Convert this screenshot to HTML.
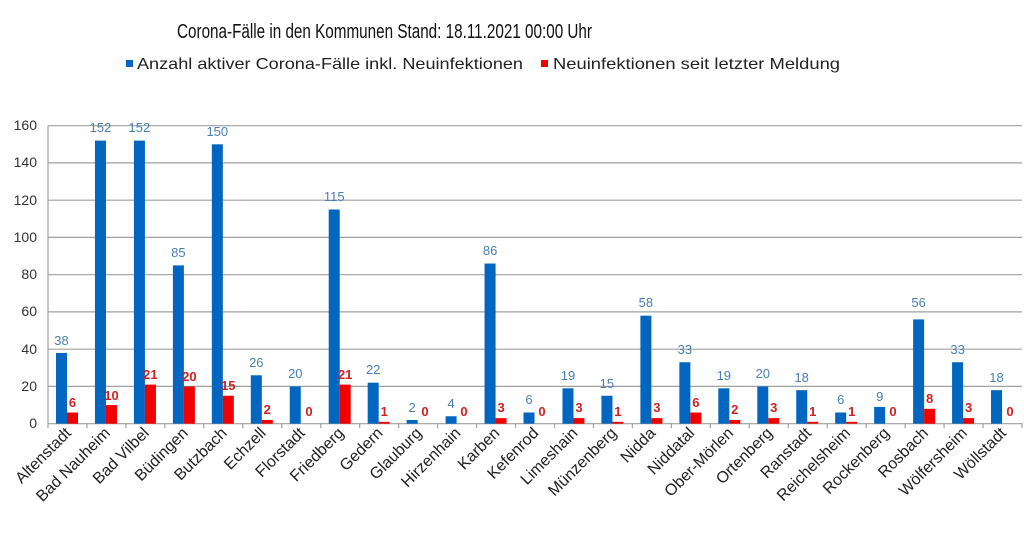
<!DOCTYPE html>
<html><head><meta charset="utf-8"><style>
body{margin:0;background:#fff}
svg{display:block;font-family:"Liberation Sans",sans-serif}
.b{fill:#0066bf}.r{fill:#f00000}
.bl{fill:#4a7fb5;font-size:13px;text-anchor:middle}
.rl{fill:#d02020;font-size:13px;font-weight:bold;text-anchor:middle}
.yl{fill:#333;font-size:14px;text-anchor:end}
.cl{fill:#222;font-size:16px;text-anchor:end}
</style></head><body>
<svg width="1024" height="534" viewBox="0 0 1024 534">
<text x="177" y="38" font-size="20" textLength="415" lengthAdjust="spacingAndGlyphs" fill="#111">Corona-Fälle in den Kommunen Stand: 18.11.2021 00:00 Uhr</text>
<rect x="126" y="60" width="7" height="7" class="b"/>
<text x="137" y="69" font-size="16" textLength="386" lengthAdjust="spacingAndGlyphs" fill="#222">Anzahl aktiver Corona-Fälle inkl. Neuinfektionen</text>
<rect x="541" y="60" width="7" height="7" class="r"/>
<text x="553" y="69" font-size="16" textLength="287" lengthAdjust="spacingAndGlyphs" fill="#222">Neuinfektionen seit letzter Meldung</text>
<g stroke="#a0a0a0" stroke-width="1.2">
<line x1="48" x2="1022" y1="125.7" y2="125.7"/>
<line x1="48" x2="1022" y1="162.9" y2="162.9"/>
<line x1="48" x2="1022" y1="200.2" y2="200.2"/>
<line x1="48" x2="1022" y1="237.4" y2="237.4"/>
<line x1="48" x2="1022" y1="274.7" y2="274.7"/>
<line x1="48" x2="1022" y1="311.9" y2="311.9"/>
<line x1="48" x2="1022" y1="349.2" y2="349.2"/>
<line x1="48" x2="1022" y1="386.4" y2="386.4"/>
<line x1="48" x2="1022" y1="423.7" y2="423.7"/>
<line x1="48" x2="48" y1="125.7" y2="428"/>
</g>
<g stroke="#a0a0a0" stroke-width="1.2">
<line x1="86.96" x2="86.96" y1="423" y2="428"/><line x1="125.92" x2="125.92" y1="423" y2="428"/><line x1="164.88" x2="164.88" y1="423" y2="428"/><line x1="203.84" x2="203.84" y1="423" y2="428"/><line x1="242.8" x2="242.8" y1="423" y2="428"/><line x1="281.76" x2="281.76" y1="423" y2="428"/><line x1="320.72" x2="320.72" y1="423" y2="428"/><line x1="359.68" x2="359.68" y1="423" y2="428"/><line x1="398.64" x2="398.64" y1="423" y2="428"/><line x1="437.6" x2="437.6" y1="423" y2="428"/><line x1="476.56" x2="476.56" y1="423" y2="428"/><line x1="515.52" x2="515.52" y1="423" y2="428"/><line x1="554.48" x2="554.48" y1="423" y2="428"/><line x1="593.44" x2="593.44" y1="423" y2="428"/><line x1="632.4" x2="632.4" y1="423" y2="428"/><line x1="671.36" x2="671.36" y1="423" y2="428"/><line x1="710.32" x2="710.32" y1="423" y2="428"/><line x1="749.28" x2="749.28" y1="423" y2="428"/><line x1="788.24" x2="788.24" y1="423" y2="428"/><line x1="827.2" x2="827.2" y1="423" y2="428"/><line x1="866.16" x2="866.16" y1="423" y2="428"/><line x1="905.12" x2="905.12" y1="423" y2="428"/><line x1="944.08" x2="944.08" y1="423" y2="428"/><line x1="983.04" x2="983.04" y1="423" y2="428"/><line x1="1022" x2="1022" y1="423" y2="428"/>
</g>
<g class="yl">
<text x="37" y="130">160</text><text x="37" y="167">140</text><text x="37" y="205">120</text><text x="37" y="242">100</text><text x="37" y="279">80</text><text x="37" y="316">60</text><text x="37" y="354">40</text><text x="37" y="391">20</text><text x="37" y="428">0</text>
</g>
<g transform="translate(0,423.7) scale(1,-1.8625)">
<rect class="b" x="56" width="11" y="0" height="38"/><rect class="r" x="67" width="11" y="0" height="6"/>
<rect class="b" x="94.96" width="11" y="0" height="152"/><rect class="r" x="105.96" width="11" y="0" height="10"/>
<rect class="b" x="133.92" width="11" y="0" height="152"/><rect class="r" x="144.92" width="11" y="0" height="21"/>
<rect class="b" x="172.88" width="11" y="0" height="85"/><rect class="r" x="183.88" width="11" y="0" height="20"/>
<rect class="b" x="211.84" width="11" y="0" height="150"/><rect class="r" x="222.84" width="11" y="0" height="15"/>
<rect class="b" x="250.8" width="11" y="0" height="26"/><rect class="r" x="261.8" width="11" y="0" height="2"/>
<rect class="b" x="289.76" width="11" y="0" height="20"/>
<rect class="b" x="328.72" width="11" y="0" height="115"/><rect class="r" x="339.72" width="11" y="0" height="21"/>
<rect class="b" x="367.68" width="11" y="0" height="22"/><rect class="r" x="378.68" width="11" y="0" height="1"/>
<rect class="b" x="406.64" width="11" y="0" height="2"/>
<rect class="b" x="445.6" width="11" y="0" height="4"/>
<rect class="b" x="484.56" width="11" y="0" height="86"/><rect class="r" x="495.56" width="11" y="0" height="3"/>
<rect class="b" x="523.52" width="11" y="0" height="6"/>
<rect class="b" x="562.48" width="11" y="0" height="19"/><rect class="r" x="573.48" width="11" y="0" height="3"/>
<rect class="b" x="601.44" width="11" y="0" height="15"/><rect class="r" x="612.44" width="11" y="0" height="1"/>
<rect class="b" x="640.4" width="11" y="0" height="58"/><rect class="r" x="651.4" width="11" y="0" height="3"/>
<rect class="b" x="679.36" width="11" y="0" height="33"/><rect class="r" x="690.36" width="11" y="0" height="6"/>
<rect class="b" x="718.32" width="11" y="0" height="19"/><rect class="r" x="729.32" width="11" y="0" height="2"/>
<rect class="b" x="757.28" width="11" y="0" height="20"/><rect class="r" x="768.28" width="11" y="0" height="3"/>
<rect class="b" x="796.24" width="11" y="0" height="18"/><rect class="r" x="807.24" width="11" y="0" height="1"/>
<rect class="b" x="835.2" width="11" y="0" height="6"/><rect class="r" x="846.2" width="11" y="0" height="1"/>
<rect class="b" x="874.16" width="11" y="0" height="9"/>
<rect class="b" x="913.12" width="11" y="0" height="56"/><rect class="r" x="924.12" width="11" y="0" height="8"/>
<rect class="b" x="952.08" width="11" y="0" height="33"/><rect class="r" x="963.08" width="11" y="0" height="3"/>
<rect class="b" x="991.04" width="11" y="0" height="18"/>
</g>
<g class="bl">
<text x="61.5" y="345">38</text><text x="100.5" y="132">152</text><text x="139.4" y="132">152</text><text x="178.4" y="257">85</text><text x="217.3" y="136">150</text><text x="256.3" y="367">26</text><text x="295.3" y="378">20</text><text x="334.2" y="201">115</text><text x="373.2" y="374">22</text><text x="412.1" y="412">2</text><text x="451.1" y="408">4</text><text x="490.1" y="255">86</text><text x="529" y="404">6</text><text x="568" y="380">19</text><text x="606.9" y="388">15</text><text x="645.9" y="307">58</text><text x="684.9" y="354">33</text><text x="723.8" y="380">19</text><text x="762.8" y="378">20</text><text x="801.7" y="382">18</text><text x="840.7" y="404">6</text><text x="879.7" y="401">9</text><text x="918.6" y="307">56</text><text x="957.6" y="354">33</text><text x="996.5" y="382">18</text>
</g>
<g class="rl">
<text x="72.5" y="407">6</text><text x="111.5" y="400">10</text><text x="150.4" y="379">21</text><text x="189.4" y="381">20</text><text x="228.3" y="390">15</text><text x="267.3" y="414">2</text><text x="309" y="416">0</text><text x="345.2" y="379">21</text><text x="384.2" y="416">1</text><text x="425" y="416">0</text><text x="464" y="416">0</text><text x="501.1" y="412">3</text><text x="542" y="416">0</text><text x="579" y="412">3</text><text x="617.9" y="416">1</text><text x="656.9" y="412">3</text><text x="695.9" y="407">6</text><text x="734.8" y="414">2</text><text x="773.8" y="412">3</text><text x="812.7" y="416">1</text><text x="851.7" y="416">1</text><text x="893" y="416">0</text><text x="929.6" y="403">8</text><text x="968.6" y="412">3</text><text x="1010" y="416">0</text>
</g>
<g class="cl">
<text transform="translate(72,434) rotate(-45)">Altenstadt</text>
<text transform="translate(111,434) rotate(-45)">Bad Nauheim</text>
<text transform="translate(149.9,434) rotate(-45)">Bad Vilbel</text>
<text transform="translate(188.9,434) rotate(-45)">Büdingen</text>
<text transform="translate(227.8,434) rotate(-45)">Butzbach</text>
<text transform="translate(266.8,434) rotate(-45)">Echzell</text>
<text transform="translate(305.8,434) rotate(-45)">Florstadt</text>
<text transform="translate(344.7,434) rotate(-45)">Friedberg</text>
<text transform="translate(383.7,434) rotate(-45)">Gedern</text>
<text transform="translate(422.6,434) rotate(-45)">Glauburg</text>
<text transform="translate(461.6,434) rotate(-45)">Hirzenhain</text>
<text transform="translate(500.6,434) rotate(-45)">Karben</text>
<text transform="translate(539.5,434) rotate(-45)">Kefenrod</text>
<text transform="translate(578.5,434) rotate(-45)">Limeshain</text>
<text transform="translate(617.4,434) rotate(-45)">Münzenberg</text>
<text transform="translate(656.4,434) rotate(-45)">Nidda</text>
<text transform="translate(695.4,434) rotate(-45)">Niddatal</text>
<text transform="translate(734.3,434) rotate(-45)">Ober-Mörlen</text>
<text transform="translate(773.3,434) rotate(-45)">Ortenberg</text>
<text transform="translate(812.2,434) rotate(-45)">Ranstadt</text>
<text transform="translate(851.2,434) rotate(-45)">Reichelsheim</text>
<text transform="translate(890.2,434) rotate(-45)">Rockenberg</text>
<text transform="translate(929.1,434) rotate(-45)">Rosbach</text>
<text transform="translate(968.1,434) rotate(-45)">Wölfersheim</text>
<text transform="translate(1007,434) rotate(-45)">Wöllstadt</text>
</g>
</svg>
</body></html>
